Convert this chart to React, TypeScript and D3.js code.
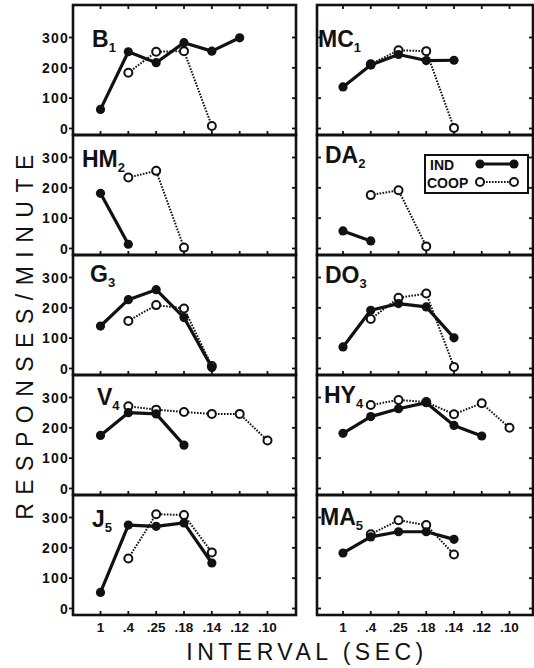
import React, { useEffect, useRef } from "react";
import * as d3 from "d3";

// interval categories (sec) along the x axis
const intervals = ["1", ".4", ".25", ".18", ".14", ".12", ".10"];
const yTicks = [0, 100, 200, 300];

// responses/minute, null where no session was run
const indB1 = [63, 253, 217, 283, 255, 299, null];
const coopB1 = [null, 184, 253, 255, 8, null, null];
const indMC1 = [137, 209, 244, 224, 225, null, null];
const coopMC1 = [null, 212, 258, 255, 2, null, null];
const indHM2 = [182, 14, null, null, null, null, null];
const coopHM2 = [null, 234, 256, 3, null, null, null];
const indDA2 = [58, 25, null, null, null, null, null];
const coopDA2 = [null, 176, 192, 7, null, null, null];
const indG3 = [140, 227, 260, 168, 3, null, null];
const coopG3 = [null, 157, 209, 198, 8, null, null];
const indDO3 = [71, 192, 214, 203, 101, null, null];
const coopDO3 = [null, 163, 233, 247, 5, null, null];
const indV4 = [175, 250, 246, 143, null, null, null];
const coopV4 = [null, 271, 260, 252, 246, 246, 158];
const indHY4 = [182, 237, 263, 283, 208, 173, null];
const coopHY4 = [null, 275, 292, 285, 245, 281, 200];
const indJ5 = [53, 275, 271, 282, 150, null, null];
const coopJ5 = [null, 165, 311, 308, 185, null, null];
const indMA5 = [183, 236, 253, 253, 228, null, null];
const coopMA5 = [null, 245, 291, 275, 178, null, null];

const panels = [
  { name: "B", sub: "1", ind: indB1, coop: coopB1 },
  { name: "MC", sub: "1", ind: indMC1, coop: coopMC1 },
  { name: "HM", sub: "2", ind: indHM2, coop: coopHM2 },
  { name: "DA", sub: "2", ind: indDA2, coop: coopDA2 },
  { name: "G", sub: "3", ind: indG3, coop: coopG3 },
  { name: "DO", sub: "3", ind: indDO3, coop: coopDO3 },
  { name: "V", sub: "4", ind: indV4, coop: coopV4 },
  { name: "HY", sub: "4", ind: indHY4, coop: coopHY4 },
  { name: "J", sub: "5", ind: indJ5, coop: coopJ5 },
  { name: "MA", sub: "5", ind: indMA5, coop: coopMA5 },
];

// layout
const W = 534;
const H = 668;
const colEdges = [[73, 296], [317, 533]];
const colTickRange = [[100.5, 267.5], [343, 509.5]];
const labelPos = [[19, 42], [1, 42], [9, 32], [8, 28], [17, 27], [8, 28], [24, 30], [7, 28], [19, 32], [3, 30]];
const INK = "#111";
const FONT = "'Liberation Sans', Arial, Helvetica, sans-serif";

export default function App() {
  const svgRef = useRef<SVGSVGElement | null>(null);

  useEffect(() => {
    const svg = d3.select(svgRef.current);
    svg.selectAll("*").remove();
    svg.append("rect").attr("width", W).attr("height", H).attr("fill", "#fff");

    panels.forEach((p, i) => {
      const col = i % 2;
      const row = Math.floor(i / 2);
      const [x0, x1] = colEdges[col];
      const bottom = 135 + row * 120;
      const top = row === 0 ? 5 : bottom - 120;

      const x = d3.scalePoint<string>().domain(intervals).range(colTickRange[col] as [number, number]);
      const y = d3.scaleLinear().domain([0, 300]).range([bottom - 6.5, bottom - 97.5]);

      const g = svg.append("g");

      // frame
      g.append("rect")
        .attr("x", x0).attr("y", top)
        .attr("width", x1 - x0).attr("height", bottom - top)
        .attr("fill", "none").attr("stroke", INK).attr("stroke-width", 2.6);

      // x ticks (inward)
      intervals.forEach(t => {
        g.append("line")
          .attr("x1", x(t)!).attr("x2", x(t)!)
          .attr("y1", bottom).attr("y2", bottom - 4)
          .attr("stroke", INK).attr("stroke-width", 1.8);
        if (row === 0) {
          g.append("line")
            .attr("x1", x(t)!).attr("x2", x(t)!)
            .attr("y1", top).attr("y2", top + 4)
            .attr("stroke", INK).attr("stroke-width", 1.8);
        }
      });

      // y ticks
      yTicks.forEach(v => {
        const lx = col === 0 ? [x0 - 4, x0] : [x0, x0 + 4];
        g.append("line")
          .attr("x1", lx[0]).attr("x2", lx[1])
          .attr("y1", y(v)).attr("y2", y(v))
          .attr("stroke", INK).attr("stroke-width", 1.8);
        g.append("line")
          .attr("x1", x1 - 4).attr("x2", x1)
          .attr("y1", y(v)).attr("y2", y(v))
          .attr("stroke", INK).attr("stroke-width", 1.8);
        if (col === 0) {
          g.append("text")
            .attr("x", x0 - 4).attr("y", y(v) + 5)
            .attr("text-anchor", "end")
            .attr("font-family", FONT).attr("font-weight", "bold")
            .attr("font-size", 14).attr("letter-spacing", 1.2)
            .attr("fill", INK)
            .text(v);
        }
      });

      // x tick labels under the last row
      if (row === 4) {
        intervals.forEach(t => {
          g.append("text")
            .attr("x", x(t)!).attr("y", 632)
            .attr("text-anchor", "middle")
            .attr("font-family", FONT).attr("font-weight", "bold")
            .attr("font-size", 13.5)
            .attr("fill", INK)
            .text(t);
        });
      }

      // panel label
      const lbl = g.append("text")
        .attr("x", x0 + labelPos[i][0]).attr("y", top + labelPos[i][1])
        .attr("font-family", FONT).attr("font-weight", "bold")
        .attr("font-size", 23).attr("fill", INK);
      lbl.append("tspan").text(p.name);
      lbl.append("tspan").attr("font-size", 13).attr("dy", 5).text(p.sub);

      const pts = (vals: (number | null)[]) =>
        intervals.map((t, k) => [t, vals[k]] as [string, number | null]).filter(d => d[1] != null) as [string, number][];

      const line = d3.line<[string, number]>().x(d => x(d[0])!).y(d => y(d[1]));

      // COOP: dotted line, open circles
      const coop = pts(p.coop);
      g.append("path")
        .attr("d", line(coop)!)
        .attr("fill", "none").attr("stroke", INK)
        .attr("stroke-width", 2).attr("stroke-dasharray", "1.6,1.4");
      g.selectAll("circle.coop").data(coop).join("circle")
        .attr("class", "coop")
        .attr("cx", d => x(d[0])!).attr("cy", d => y(d[1]))
        .attr("r", 4).attr("fill", "#fff").attr("stroke", INK).attr("stroke-width", 2);

      // IND: heavy solid line, filled dots
      const ind = pts(p.ind);
      g.append("path")
        .attr("d", line(ind)!)
        .attr("fill", "none").attr("stroke", INK)
        .attr("stroke-width", 3.2).attr("stroke-linejoin", "round");
      g.selectAll("circle.ind").data(ind).join("circle")
        .attr("class", "ind")
        .attr("cx", d => x(d[0])!).attr("cy", d => y(d[1]))
        .attr("r", 4.6).attr("fill", INK);

      // legend lives in the DA2 panel
      if (i === 3) {
        const lg = svg.append("g");
        lg.append("rect")
          .attr("x", 425).attr("y", 155).attr("width", 103).attr("height", 38)
          .attr("fill", "#fff").attr("stroke", INK).attr("stroke-width", 2);
        lg.append("text")
          .attr("x", 430).attr("y", 170)
          .attr("font-family", FONT).attr("font-weight", "bold").attr("font-size", 14)
          .attr("fill", INK).text("IND");
        lg.append("text")
          .attr("x", 427).attr("y", 188)
          .attr("font-family", FONT).attr("font-weight", "bold").attr("font-size", 14)
          .attr("fill", INK).text("COOP");
        lg.append("line")
          .attr("x1", 480).attr("x2", 514).attr("y1", 164).attr("y2", 164)
          .attr("stroke", INK).attr("stroke-width", 3.2);
        [480, 514].forEach(cx => {
          lg.append("circle").attr("cx", cx).attr("cy", 164).attr("r", 4.6).attr("fill", INK);
        });
        lg.append("line")
          .attr("x1", 480).attr("x2", 514).attr("y1", 182).attr("y2", 182)
          .attr("stroke", INK).attr("stroke-width", 2).attr("stroke-dasharray", "1.6,1.4");
        [480, 514].forEach(cx => {
          lg.append("circle").attr("cx", cx).attr("cy", 182).attr("r", 4)
            .attr("fill", "#fff").attr("stroke", INK).attr("stroke-width", 2);
        });
      }
    });

    // axis titles
    svg.append("text")
      .attr("transform", "translate(33,333) rotate(-90)")
      .attr("text-anchor", "middle")
      .attr("font-family", FONT).attr("font-size", 23)
      .attr("letter-spacing", 8.5)
      .attr("fill", INK)
      .text("RESPONSES/MINUTE");

    svg.append("text")
      .attr("x", 307).attr("y", 660)
      .attr("text-anchor", "middle")
      .attr("font-family", FONT).attr("font-size", 23)
      .attr("letter-spacing", 4.5)
      .attr("fill", INK)
      .text("INTERVAL (SEC)");
  }, []);

  return (
    <svg
      ref={svgRef}
      width={W}
      height={H}
      style={{ position: "absolute", left: 0, top: 0 }}
    />
  );
}
